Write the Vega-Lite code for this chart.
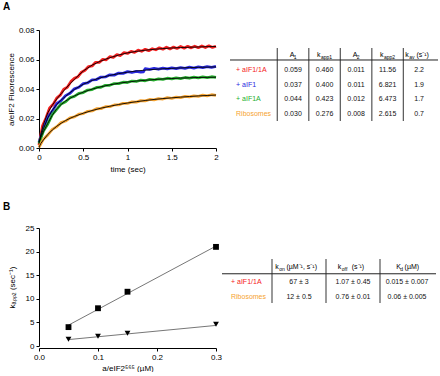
{
  "$schema": "https://vega.github.io/schema/vega-lite/v6.json",
  "padding": {"left": 3, "top": 2, "right": 0, "bottom": 0},
  "bounds": "flush",
  "columns": 2,
  "spacing": {"row": 80, "column": 6},
  "config": {
    "view": {"stroke": null},
    "font": "Liberation Sans",
    "axis": {
      "domainColor": "#000", "tickColor": "#000", "labelColor": "#000", "titleColor": "#000",
      "tickSize": 3, "labelFontSize": 8, "titleFontSize": 8, "titleFontWeight": "normal",
      "labelPadding": 2, "grid": false, "labelFlush": false, "domainWidth": 1,
      "labelFont": "Liberation Sans", "titleFont": "Liberation Sans"
    },
    "title": {"fontSize": 10, "fontWeight": "bold", "font": "Liberation Sans", "color": "#000"},
    "text": {"font": "Liberation Sans", "fontSize": 7, "baseline": "middle"}
  },
  "datasets": {
    "traces": [
      {"s": "+ aIF1/1A", "t": 0.00, "f": 0.0020}, {"s": "+ aIF1/1A", "t": 0.04, "f": 0.0150}, {"s": "+ aIF1/1A", "t": 0.08, "f": 0.0205},
      {"s": "+ aIF1/1A", "t": 0.12, "f": 0.0272}, {"s": "+ aIF1/1A", "t": 0.16, "f": 0.0296}, {"s": "+ aIF1/1A", "t": 0.20, "f": 0.0338},
      {"s": "+ aIF1/1A", "t": 0.24, "f": 0.0358}, {"s": "+ aIF1/1A", "t": 0.28, "f": 0.0399}, {"s": "+ aIF1/1A", "t": 0.32, "f": 0.0412},
      {"s": "+ aIF1/1A", "t": 0.36, "f": 0.0450}, {"s": "+ aIF1/1A", "t": 0.40, "f": 0.0472}, {"s": "+ aIF1/1A", "t": 0.44, "f": 0.0483},
      {"s": "+ aIF1/1A", "t": 0.48, "f": 0.0514}, {"s": "+ aIF1/1A", "t": 0.52, "f": 0.0527}, {"s": "+ aIF1/1A", "t": 0.56, "f": 0.0552},
      {"s": "+ aIF1/1A", "t": 0.60, "f": 0.0556}, {"s": "+ aIF1/1A", "t": 0.64, "f": 0.0581}, {"s": "+ aIF1/1A", "t": 0.68, "f": 0.0580},
      {"s": "+ aIF1/1A", "t": 0.72, "f": 0.0601}, {"s": "+ aIF1/1A", "t": 0.76, "f": 0.0598}, {"s": "+ aIF1/1A", "t": 0.80, "f": 0.0619},
      {"s": "+ aIF1/1A", "t": 0.84, "f": 0.0614}, {"s": "+ aIF1/1A", "t": 0.88, "f": 0.0633}, {"s": "+ aIF1/1A", "t": 0.92, "f": 0.0627},
      {"s": "+ aIF1/1A", "t": 0.96, "f": 0.0646}, {"s": "+ aIF1/1A", "t": 1.00, "f": 0.0641}, {"s": "+ aIF1/1A", "t": 1.04, "f": 0.0655},
      {"s": "+ aIF1/1A", "t": 1.08, "f": 0.0648}, {"s": "+ aIF1/1A", "t": 1.12, "f": 0.0663}, {"s": "+ aIF1/1A", "t": 1.16, "f": 0.0656},
      {"s": "+ aIF1/1A", "t": 1.20, "f": 0.0669}, {"s": "+ aIF1/1A", "t": 1.24, "f": 0.0660}, {"s": "+ aIF1/1A", "t": 1.28, "f": 0.0673},
      {"s": "+ aIF1/1A", "t": 1.32, "f": 0.0666}, {"s": "+ aIF1/1A", "t": 1.36, "f": 0.0679}, {"s": "+ aIF1/1A", "t": 1.40, "f": 0.0670},
      {"s": "+ aIF1/1A", "t": 1.44, "f": 0.0683}, {"s": "+ aIF1/1A", "t": 1.48, "f": 0.0672}, {"s": "+ aIF1/1A", "t": 1.52, "f": 0.0684},
      {"s": "+ aIF1/1A", "t": 1.56, "f": 0.0675}, {"s": "+ aIF1/1A", "t": 1.60, "f": 0.0688}, {"s": "+ aIF1/1A", "t": 1.64, "f": 0.0677},
      {"s": "+ aIF1/1A", "t": 1.68, "f": 0.0689}, {"s": "+ aIF1/1A", "t": 1.72, "f": 0.0679}, {"s": "+ aIF1/1A", "t": 1.76, "f": 0.0690},
      {"s": "+ aIF1/1A", "t": 1.80, "f": 0.0680}, {"s": "+ aIF1/1A", "t": 1.84, "f": 0.0692}, {"s": "+ aIF1/1A", "t": 1.88, "f": 0.0681},
      {"s": "+ aIF1/1A", "t": 1.92, "f": 0.0693}, {"s": "+ aIF1/1A", "t": 1.96, "f": 0.0682}, {"s": "+ aIF1/1A", "t": 2.00, "f": 0.0690},

      {"s": "+ aIF1", "t": 0.00, "f": 0.0040}, {"s": "+ aIF1", "t": 0.05, "f": 0.0128}, {"s": "+ aIF1", "t": 0.10, "f": 0.0210},
      {"s": "+ aIF1", "t": 0.15, "f": 0.0250}, {"s": "+ aIF1", "t": 0.20, "f": 0.0300}, {"s": "+ aIF1", "t": 0.25, "f": 0.0321},
      {"s": "+ aIF1", "t": 0.30, "f": 0.0355}, {"s": "+ aIF1", "t": 0.35, "f": 0.0371}, {"s": "+ aIF1", "t": 0.40, "f": 0.0401},
      {"s": "+ aIF1", "t": 0.45, "f": 0.0412}, {"s": "+ aIF1", "t": 0.50, "f": 0.0436}, {"s": "+ aIF1", "t": 0.55, "f": 0.0442},
      {"s": "+ aIF1", "t": 0.60, "f": 0.0462}, {"s": "+ aIF1", "t": 0.65, "f": 0.0464}, {"s": "+ aIF1", "t": 0.70, "f": 0.0481},
      {"s": "+ aIF1", "t": 0.75, "f": 0.0482}, {"s": "+ aIF1", "t": 0.80, "f": 0.0496}, {"s": "+ aIF1", "t": 0.85, "f": 0.0494},
      {"s": "+ aIF1", "t": 0.90, "f": 0.0508}, {"s": "+ aIF1", "t": 0.95, "f": 0.0506}, {"s": "+ aIF1", "t": 1.00, "f": 0.0518},
      {"s": "+ aIF1", "t": 1.05, "f": 0.0512}, {"s": "+ aIF1", "t": 1.10, "f": 0.0520}, {"s": "+ aIF1", "t": 1.15, "f": 0.0514},
      {"s": "+ aIF1", "t": 1.18, "f": 0.0516}, {"s": "+ aIF1", "t": 1.20, "f": 0.0538}, {"s": "+ aIF1", "t": 1.25, "f": 0.0533},
      {"s": "+ aIF1", "t": 1.30, "f": 0.0540}, {"s": "+ aIF1", "t": 1.35, "f": 0.0534}, {"s": "+ aIF1", "t": 1.40, "f": 0.0541},
      {"s": "+ aIF1", "t": 1.45, "f": 0.0536}, {"s": "+ aIF1", "t": 1.50, "f": 0.0543}, {"s": "+ aIF1", "t": 1.55, "f": 0.0538},
      {"s": "+ aIF1", "t": 1.60, "f": 0.0545}, {"s": "+ aIF1", "t": 1.65, "f": 0.0540}, {"s": "+ aIF1", "t": 1.70, "f": 0.0548},
      {"s": "+ aIF1", "t": 1.75, "f": 0.0542}, {"s": "+ aIF1", "t": 1.80, "f": 0.0550}, {"s": "+ aIF1", "t": 1.85, "f": 0.0545},
      {"s": "+ aIF1", "t": 1.90, "f": 0.0552}, {"s": "+ aIF1", "t": 1.95, "f": 0.0546}, {"s": "+ aIF1", "t": 2.00, "f": 0.0553},

      {"s": "+ aIF1A", "t": 0.00, "f": 0.0030}, {"s": "+ aIF1A", "t": 0.05, "f": 0.0115}, {"s": "+ aIF1A", "t": 0.10, "f": 0.0163},
      {"s": "+ aIF1A", "t": 0.15, "f": 0.0226}, {"s": "+ aIF1A", "t": 0.20, "f": 0.0262}, {"s": "+ aIF1A", "t": 0.25, "f": 0.0299},
      {"s": "+ aIF1A", "t": 0.30, "f": 0.0314}, {"s": "+ aIF1A", "t": 0.35, "f": 0.0341}, {"s": "+ aIF1A", "t": 0.40, "f": 0.0350},
      {"s": "+ aIF1A", "t": 0.45, "f": 0.0370}, {"s": "+ aIF1A", "t": 0.50, "f": 0.0376}, {"s": "+ aIF1A", "t": 0.55, "f": 0.0393},
      {"s": "+ aIF1A", "t": 0.60, "f": 0.0396}, {"s": "+ aIF1A", "t": 0.65, "f": 0.0411}, {"s": "+ aIF1A", "t": 0.70, "f": 0.0412},
      {"s": "+ aIF1A", "t": 0.75, "f": 0.0425}, {"s": "+ aIF1A", "t": 0.80, "f": 0.0425}, {"s": "+ aIF1A", "t": 0.85, "f": 0.0437},
      {"s": "+ aIF1A", "t": 0.90, "f": 0.0436}, {"s": "+ aIF1A", "t": 0.95, "f": 0.0446}, {"s": "+ aIF1A", "t": 1.00, "f": 0.0444},
      {"s": "+ aIF1A", "t": 1.05, "f": 0.0454}, {"s": "+ aIF1A", "t": 1.10, "f": 0.0451}, {"s": "+ aIF1A", "t": 1.15, "f": 0.0460},
      {"s": "+ aIF1A", "t": 1.20, "f": 0.0456}, {"s": "+ aIF1A", "t": 1.25, "f": 0.0465}, {"s": "+ aIF1A", "t": 1.30, "f": 0.0461},
      {"s": "+ aIF1A", "t": 1.35, "f": 0.0469}, {"s": "+ aIF1A", "t": 1.40, "f": 0.0465}, {"s": "+ aIF1A", "t": 1.45, "f": 0.0473},
      {"s": "+ aIF1A", "t": 1.50, "f": 0.0468}, {"s": "+ aIF1A", "t": 1.55, "f": 0.0476}, {"s": "+ aIF1A", "t": 1.60, "f": 0.0471},
      {"s": "+ aIF1A", "t": 1.65, "f": 0.0478}, {"s": "+ aIF1A", "t": 1.70, "f": 0.0473}, {"s": "+ aIF1A", "t": 1.75, "f": 0.0480},
      {"s": "+ aIF1A", "t": 1.80, "f": 0.0475}, {"s": "+ aIF1A", "t": 1.85, "f": 0.0482}, {"s": "+ aIF1A", "t": 1.90, "f": 0.0477},
      {"s": "+ aIF1A", "t": 1.95, "f": 0.0483}, {"s": "+ aIF1A", "t": 2.00, "f": 0.0479},

      {"s": "Ribosomes", "t": 0.00, "f": 0.0005}, {"s": "Ribosomes", "t": 0.05, "f": 0.0060}, {"s": "Ribosomes", "t": 0.10, "f": 0.0089},
      {"s": "Ribosomes", "t": 0.15, "f": 0.0126}, {"s": "Ribosomes", "t": 0.20, "f": 0.0144}, {"s": "Ribosomes", "t": 0.25, "f": 0.0172},
      {"s": "Ribosomes", "t": 0.30, "f": 0.0183}, {"s": "Ribosomes", "t": 0.35, "f": 0.0205}, {"s": "Ribosomes", "t": 0.40, "f": 0.0211},
      {"s": "Ribosomes", "t": 0.45, "f": 0.0229}, {"s": "Ribosomes", "t": 0.50, "f": 0.0233}, {"s": "Ribosomes", "t": 0.55, "f": 0.0249},
      {"s": "Ribosomes", "t": 0.60, "f": 0.0251}, {"s": "Ribosomes", "t": 0.65, "f": 0.0266}, {"s": "Ribosomes", "t": 0.70, "f": 0.0267},
      {"s": "Ribosomes", "t": 0.75, "f": 0.0280}, {"s": "Ribosomes", "t": 0.80, "f": 0.0280}, {"s": "Ribosomes", "t": 0.85, "f": 0.0292},
      {"s": "Ribosomes", "t": 0.90, "f": 0.0292}, {"s": "Ribosomes", "t": 0.95, "f": 0.0303}, {"s": "Ribosomes", "t": 1.00, "f": 0.0302},
      {"s": "Ribosomes", "t": 1.05, "f": 0.0313}, {"s": "Ribosomes", "t": 1.10, "f": 0.0311}, {"s": "Ribosomes", "t": 1.15, "f": 0.0321},
      {"s": "Ribosomes", "t": 1.20, "f": 0.0319}, {"s": "Ribosomes", "t": 1.25, "f": 0.0329}, {"s": "Ribosomes", "t": 1.30, "f": 0.0326},
      {"s": "Ribosomes", "t": 1.35, "f": 0.0335}, {"s": "Ribosomes", "t": 1.40, "f": 0.0332}, {"s": "Ribosomes", "t": 1.45, "f": 0.0341},
      {"s": "Ribosomes", "t": 1.50, "f": 0.0337}, {"s": "Ribosomes", "t": 1.55, "f": 0.0345}, {"s": "Ribosomes", "t": 1.60, "f": 0.0342},
      {"s": "Ribosomes", "t": 1.65, "f": 0.0350}, {"s": "Ribosomes", "t": 1.70, "f": 0.0346}, {"s": "Ribosomes", "t": 1.75, "f": 0.0354},
      {"s": "Ribosomes", "t": 1.80, "f": 0.0350}, {"s": "Ribosomes", "t": 1.85, "f": 0.0358}, {"s": "Ribosomes", "t": 1.90, "f": 0.0353},
      {"s": "Ribosomes", "t": 1.95, "f": 0.0361}, {"s": "Ribosomes", "t": 2.00, "f": 0.0356}
    ],
    "fits": [
      {"s": "+ aIF1/1A", "t": 0, "f": 0.003}, {"s": "+ aIF1/1A", "t": 0.02, "f": 0.009}, {"s": "+ aIF1/1A", "t": 0.05, "f": 0.016},
      {"s": "+ aIF1/1A", "t": 0.1, "f": 0.0240}, {"s": "+ aIF1/1A", "t": 0.15, "f": 0.0290}, {"s": "+ aIF1/1A", "t": 0.2, "f": 0.0332},
      {"s": "+ aIF1/1A", "t": 0.25, "f": 0.0368}, {"s": "+ aIF1/1A", "t": 0.3, "f": 0.0402}, {"s": "+ aIF1/1A", "t": 0.35, "f": 0.0435},
      {"s": "+ aIF1/1A", "t": 0.4, "f": 0.0466}, {"s": "+ aIF1/1A", "t": 0.5, "f": 0.0522}, {"s": "+ aIF1/1A", "t": 0.6, "f": 0.0562},
      {"s": "+ aIF1/1A", "t": 0.7, "f": 0.0590}, {"s": "+ aIF1/1A", "t": 0.8, "f": 0.0612}, {"s": "+ aIF1/1A", "t": 0.9, "f": 0.0630},
      {"s": "+ aIF1/1A", "t": 1.0, "f": 0.0645}, {"s": "+ aIF1/1A", "t": 1.1, "f": 0.0655}, {"s": "+ aIF1/1A", "t": 1.2, "f": 0.0663},
      {"s": "+ aIF1/1A", "t": 1.3, "f": 0.0669}, {"s": "+ aIF1/1A", "t": 1.4, "f": 0.0674}, {"s": "+ aIF1/1A", "t": 1.5, "f": 0.0678},
      {"s": "+ aIF1/1A", "t": 1.6, "f": 0.0681}, {"s": "+ aIF1/1A", "t": 1.7, "f": 0.0683}, {"s": "+ aIF1/1A", "t": 1.8, "f": 0.0685},
      {"s": "+ aIF1/1A", "t": 1.9, "f": 0.0687}, {"s": "+ aIF1/1A", "t": 2.0, "f": 0.0688},

      {"s": "+ aIF1", "t": 0, "f": 0.004}, {"s": "+ aIF1", "t": 0.02, "f": 0.008}, {"s": "+ aIF1", "t": 0.05, "f": 0.013},
      {"s": "+ aIF1", "t": 0.1, "f": 0.0205}, {"s": "+ aIF1", "t": 0.15, "f": 0.0255}, {"s": "+ aIF1", "t": 0.2, "f": 0.0295},
      {"s": "+ aIF1", "t": 0.25, "f": 0.0325}, {"s": "+ aIF1", "t": 0.3, "f": 0.0350}, {"s": "+ aIF1", "t": 0.35, "f": 0.0375},
      {"s": "+ aIF1", "t": 0.4, "f": 0.0397}, {"s": "+ aIF1", "t": 0.5, "f": 0.0432}, {"s": "+ aIF1", "t": 0.6, "f": 0.0458},
      {"s": "+ aIF1", "t": 0.7, "f": 0.0477}, {"s": "+ aIF1", "t": 0.8, "f": 0.0492}, {"s": "+ aIF1", "t": 0.9, "f": 0.0504},
      {"s": "+ aIF1", "t": 1.0, "f": 0.0514}, {"s": "+ aIF1", "t": 1.1, "f": 0.0522}, {"s": "+ aIF1", "t": 1.2, "f": 0.0528},
      {"s": "+ aIF1", "t": 1.3, "f": 0.0533}, {"s": "+ aIF1", "t": 1.4, "f": 0.0537}, {"s": "+ aIF1", "t": 1.5, "f": 0.0540},
      {"s": "+ aIF1", "t": 1.6, "f": 0.0543}, {"s": "+ aIF1", "t": 1.7, "f": 0.0545}, {"s": "+ aIF1", "t": 1.8, "f": 0.0547},
      {"s": "+ aIF1", "t": 1.9, "f": 0.0548}, {"s": "+ aIF1", "t": 2.0, "f": 0.0550},

      {"s": "+ aIF1A", "t": 0, "f": 0.004}, {"s": "+ aIF1A", "t": 0.02, "f": 0.007}, {"s": "+ aIF1A", "t": 0.05, "f": 0.011},
      {"s": "+ aIF1A", "t": 0.1, "f": 0.0168}, {"s": "+ aIF1A", "t": 0.15, "f": 0.0222}, {"s": "+ aIF1A", "t": 0.2, "f": 0.0265},
      {"s": "+ aIF1A", "t": 0.25, "f": 0.0295}, {"s": "+ aIF1A", "t": 0.3, "f": 0.0318}, {"s": "+ aIF1A", "t": 0.35, "f": 0.0337},
      {"s": "+ aIF1A", "t": 0.4, "f": 0.0353}, {"s": "+ aIF1A", "t": 0.5, "f": 0.0379}, {"s": "+ aIF1A", "t": 0.6, "f": 0.0399},
      {"s": "+ aIF1A", "t": 0.7, "f": 0.0415}, {"s": "+ aIF1A", "t": 0.8, "f": 0.0428}, {"s": "+ aIF1A", "t": 0.9, "f": 0.0439},
      {"s": "+ aIF1A", "t": 1.0, "f": 0.0447}, {"s": "+ aIF1A", "t": 1.1, "f": 0.0454}, {"s": "+ aIF1A", "t": 1.2, "f": 0.0459},
      {"s": "+ aIF1A", "t": 1.3, "f": 0.0464}, {"s": "+ aIF1A", "t": 1.4, "f": 0.0468}, {"s": "+ aIF1A", "t": 1.5, "f": 0.0471},
      {"s": "+ aIF1A", "t": 1.6, "f": 0.0474}, {"s": "+ aIF1A", "t": 1.7, "f": 0.0476}, {"s": "+ aIF1A", "t": 1.8, "f": 0.0478},
      {"s": "+ aIF1A", "t": 1.9, "f": 0.0479}, {"s": "+ aIF1A", "t": 2.0, "f": 0.0480},

      {"s": "Ribosomes", "t": 0, "f": 0.0005}, {"s": "Ribosomes", "t": 0.02, "f": 0.003}, {"s": "Ribosomes", "t": 0.05, "f": 0.0055},
      {"s": "Ribosomes", "t": 0.1, "f": 0.0092}, {"s": "Ribosomes", "t": 0.15, "f": 0.0122}, {"s": "Ribosomes", "t": 0.2, "f": 0.0147},
      {"s": "Ribosomes", "t": 0.25, "f": 0.0168}, {"s": "Ribosomes", "t": 0.3, "f": 0.0186}, {"s": "Ribosomes", "t": 0.35, "f": 0.0201},
      {"s": "Ribosomes", "t": 0.4, "f": 0.0214}, {"s": "Ribosomes", "t": 0.5, "f": 0.0236}, {"s": "Ribosomes", "t": 0.6, "f": 0.0254},
      {"s": "Ribosomes", "t": 0.7, "f": 0.0270}, {"s": "Ribosomes", "t": 0.8, "f": 0.0283}, {"s": "Ribosomes", "t": 0.9, "f": 0.0295},
      {"s": "Ribosomes", "t": 1.0, "f": 0.0305}, {"s": "Ribosomes", "t": 1.1, "f": 0.0314}, {"s": "Ribosomes", "t": 1.2, "f": 0.0322},
      {"s": "Ribosomes", "t": 1.3, "f": 0.0329}, {"s": "Ribosomes", "t": 1.4, "f": 0.0335}, {"s": "Ribosomes", "t": 1.5, "f": 0.0340},
      {"s": "Ribosomes", "t": 1.6, "f": 0.0345}, {"s": "Ribosomes", "t": 1.7, "f": 0.0349}, {"s": "Ribosomes", "t": 1.8, "f": 0.0353},
      {"s": "Ribosomes", "t": 1.9, "f": 0.0356}, {"s": "Ribosomes", "t": 2.0, "f": 0.0359}
    ],
    "kineticsHeader": [
      {"col": 1, "base": "A", "sub": "1", "unit": ""},
      {"col": 2, "base": "k", "sub": "app1", "unit": ""},
      {"col": 3, "base": "A", "sub": "2", "unit": ""},
      {"col": 4, "base": "k", "sub": "app2", "unit": ""},
      {"col": 5, "base": "k", "sub": "av", "unit": "(s⁻¹)"}
    ],
    "kineticsRows": [
      {"row": 1, "s": "+ aIF1/1A"}, {"row": 2, "s": "+ aIF1"}, {"row": 3, "s": "+ aIF1A"}, {"row": 4, "s": "Ribosomes"}
    ],
    "kineticsCells": [
      {"row": 1, "col": 1, "v": "0.059"}, {"row": 1, "col": 2, "v": "0.460"}, {"row": 1, "col": 3, "v": "0.011"}, {"row": 1, "col": 4, "v": "11.56"}, {"row": 1, "col": 5, "v": "2.2"},
      {"row": 2, "col": 1, "v": "0.037"}, {"row": 2, "col": 2, "v": "0.400"}, {"row": 2, "col": 3, "v": "0.011"}, {"row": 2, "col": 4, "v": "6.821"}, {"row": 2, "col": 5, "v": "1.9"},
      {"row": 3, "col": 1, "v": "0.044"}, {"row": 3, "col": 2, "v": "0.423"}, {"row": 3, "col": 3, "v": "0.012"}, {"row": 3, "col": 4, "v": "6.473"}, {"row": 3, "col": 5, "v": "1.7"},
      {"row": 4, "col": 1, "v": "0.030"}, {"row": 4, "col": 2, "v": "0.276"}, {"row": 4, "col": 3, "v": "0.008"}, {"row": 4, "col": 4, "v": "2.615"}, {"row": 4, "col": 5, "v": "0.7"}
    ],
    "binding": [
      {"s": "+ aIF1/1A", "c": 0.05, "k": 4.0}, {"s": "+ aIF1/1A", "c": 0.10, "k": 8.0},
      {"s": "+ aIF1/1A", "c": 0.15, "k": 11.5}, {"s": "+ aIF1/1A", "c": 0.30, "k": 21.0},
      {"s": "Ribosomes", "c": 0.05, "k": 1.45}, {"s": "Ribosomes", "c": 0.10, "k": 2.05},
      {"s": "Ribosomes", "c": 0.15, "k": 2.7}, {"s": "Ribosomes", "c": 0.30, "k": 4.6}
    ],
    "bindingFit": [
      {"s": "+ aIF1/1A", "c": 0.05, "k": 4.42}, {"s": "+ aIF1/1A", "c": 0.30, "k": 21.17},
      {"s": "Ribosomes", "c": 0.05, "k": 1.36}, {"s": "Ribosomes", "c": 0.30, "k": 4.36}
    ],
    "bindingHeader": [
      {"col": 1, "base": "k", "sub": "on", "unit": "(µM⁻¹, s⁻¹)"},
      {"col": 2, "base": "k", "sub": "off", "unit": "(s⁻¹)"},
      {"col": 3, "base": "K", "sub": "d", "unit": "(µM)"}
    ],
    "bindingRows": [
      {"row": 1, "s": "+ aIF1/1A"}, {"row": 2, "s": "Ribosomes"}
    ],
    "bindingCells": [
      {"row": 1, "col": 1, "v": "67 ± 3"}, {"row": 1, "col": 2, "v": "1.07 ± 0.45"}, {"row": 1, "col": 3, "v": "0.015 ± 0.007"},
      {"row": 2, "col": 1, "v": "12 ± 0.5"}, {"row": 2, "col": 2, "v": "0.76 ± 0.01"}, {"row": 2, "col": 3, "v": "0.06 ± 0.005"}
    ]
  },
  "concat": [
    {
      "width": 177,
      "height": 118,
      "title": {"text": "A", "anchor": "start", "frame": "group", "dx": -36, "offset": 14},
      "encoding": {
        "x": {"field": "t", "type": "quantitative", "scale": {"domain": [0, 2], "nice": false},
              "axis": {"values": [0, 0.5, 1, 1.5, 2], "format": "~g", "title": "time (sec)", "titlePadding": 4}},
        "y": {"field": "f", "type": "quantitative", "scale": {"domain": [0, 0.08], "nice": false},
              "axis": {"values": [0, 0.02, 0.04, 0.06, 0.08], "format": ".2f", "title": "a/eIF2 Fluorescence", "titlePadding": 3}}
      },
      "layer": [
        {
          "data": {"name": "traces"},
          "mark": {"type": "line", "strokeWidth": 2.8, "strokeJoin": "round"},
          "encoding": {
            "color": {"field": "s", "type": "nominal", "legend": null,
                      "scale": {"domain": ["+ aIF1/1A", "+ aIF1", "+ aIF1A", "Ribosomes"],
                                "range": ["#f52020", "#2a2ae0", "#26b02e", "#f6a330"]}}
          }
        },
        {
          "data": {"name": "fits"},
          "mark": {"type": "line", "strokeWidth": 0.9, "color": "#000"},
          "encoding": {"detail": {"field": "s", "type": "nominal"}}
        }
      ]
    },
    {
      "width": 216,
      "height": 118,
      "encoding": {
        "x": {"type": "quantitative", "scale": {"domain": [-1.254, 5.6], "nice": false, "zero": false}, "axis": null},
        "y": {"type": "quantitative", "scale": {"domain": [-1.725, 6.32], "nice": false, "zero": false, "reverse": true}, "axis": null}
      },
      "layer": [
        {
          "data": {"name": "kineticsHeader"},
          "mark": {"type": "rule", "color": "#555", "strokeWidth": 1.2, "xOffset": -15.75},
          "encoding": {
            "x": {"field": "col", "type": "quantitative"},
            "y": {"datum": -0.5, "type": "quantitative"},
            "y2": {"datum": 4.48}
          }
        },
        {
          "data": {"values": [{"edge": "header"}]},
          "mark": {"type": "rule", "color": "#222", "strokeWidth": 1},
          "encoding": {
            "x": {"datum": -1, "type": "quantitative"},
            "x2": {"datum": 5.6},
            "y": {"datum": 0.32, "type": "quantitative"}
          }
        },
        {
          "data": {"name": "kineticsHeader"},
          "mark": {"type": "text", "align": "left", "fontSize": 7,
                   "dx": {"expr": "-(4 + 2.8*length(datum.sub) + (length(datum.unit) > 0 ? 1.5 + 3.3*length(datum.unit) : 0))/2"}},
          "encoding": {
            "x": {"field": "col", "type": "quantitative"},
            "y": {"datum": 0, "type": "quantitative"},
            "text": {"field": "base"}
          }
        },
        {
          "data": {"name": "kineticsHeader"},
          "mark": {"type": "text", "align": "left", "fontSize": 5, "dy": 2,
                   "dx": {"expr": "4 - (4 + 2.8*length(datum.sub) + (length(datum.unit) > 0 ? 1.5 + 3.3*length(datum.unit) : 0))/2"}},
          "encoding": {
            "x": {"field": "col", "type": "quantitative"},
            "y": {"datum": 0, "type": "quantitative"},
            "text": {"field": "sub"}
          }
        },
        {
          "data": {"name": "kineticsHeader"},
          "mark": {"type": "text", "align": "left", "fontSize": 7,
                   "dx": {"expr": "5.5 + 2.8*length(datum.sub) - (4 + 2.8*length(datum.sub) + (length(datum.unit) > 0 ? 1.5 + 3.3*length(datum.unit) : 0))/2"}},
          "encoding": {
            "x": {"field": "col", "type": "quantitative"},
            "y": {"datum": 0, "type": "quantitative"},
            "text": {"field": "unit"}
          }
        },
        {
          "data": {"name": "kineticsRows"},
          "mark": {"type": "text", "align": "left", "fontSize": 7, "dx": -25.5},
          "encoding": {
            "x": {"datum": 0, "type": "quantitative"},
            "y": {"field": "row", "type": "quantitative"},
            "text": {"field": "s"},
            "color": {"field": "s", "type": "nominal", "legend": null,
                      "scale": {"domain": ["+ aIF1/1A", "+ aIF1", "+ aIF1A", "Ribosomes"],
                                "range": ["#f52020", "#2a2ae0", "#26b02e", "#f6a330"]}}
          }
        },
        {
          "data": {"name": "kineticsCells"},
          "mark": {"type": "text", "align": "center", "fontSize": 7, "color": "#111"},
          "encoding": {
            "x": {"field": "col", "type": "quantitative"},
            "y": {"field": "row", "type": "quantitative"},
            "text": {"field": "v"}
          }
        }
      ]
    },
    {
      "width": 177,
      "height": 118,
      "title": {"text": "B", "anchor": "start", "frame": "group", "dx": -36, "offset": 12},
      "encoding": {
        "x": {"field": "c", "type": "quantitative", "scale": {"domain": [0, 0.3], "nice": false},
              "axis": {"values": [0, 0.1, 0.2, 0.3], "format": ".1f", "title": "a/eIF2⁵⁶⁵ (µM)", "offset": 2, "titlePadding": 3}},
        "y": {"field": "k", "type": "quantitative", "scale": {"domain": [0, 25], "nice": false},
              "axis": {"values": [0, 5, 10, 15, 20, 25], "title": "kₐₚₚ₂ (sec⁻¹)", "titlePadding": 9}}
      },
      "layer": [
        {
          "data": {"name": "bindingFit"},
          "mark": {"type": "line", "strokeWidth": 1, "color": "#777"},
          "encoding": {"detail": {"field": "s", "type": "nominal"}}
        },
        {
          "data": {"name": "binding"},
          "mark": {"type": "point", "filled": true, "opacity": 1, "color": "#000", "size": 34},
          "encoding": {
            "shape": {"field": "s", "type": "nominal", "legend": null,
                      "scale": {"domain": ["+ aIF1/1A", "Ribosomes"], "range": ["square", "triangle-down"]}}
          }
        }
      ]
    },
    {
      "width": 214,
      "height": 118,
      "encoding": {
        "x": {"type": "quantitative", "scale": {"domain": [-0.426, 3.537], "nice": false, "zero": false}, "axis": null},
        "y": {"type": "quantitative", "scale": {"domain": [-2.54, 5.22], "nice": false, "zero": false, "reverse": true}, "axis": null}
      },
      "layer": [
        {
          "data": {"name": "bindingHeader"},
          "mark": {"type": "rule", "color": "#555", "strokeWidth": 1.2, "xOffset": -27},
          "encoding": {
            "x": {"field": "col", "type": "quantitative"},
            "y": {"datum": -0.5, "type": "quantitative"},
            "y2": {"datum": 2.39}
          }
        },
        {
          "data": {"values": [{"edge": "header"}]},
          "mark": {"type": "rule", "color": "#222", "strokeWidth": 1},
          "encoding": {
            "x": {"datum": -0.426, "type": "quantitative"},
            "x2": {"datum": 3.537},
            "y": {"datum": 0.47, "type": "quantitative"}
          }
        },
        {
          "data": {"name": "bindingHeader"},
          "mark": {"type": "text", "align": "left", "fontSize": 7,
                   "dx": {"expr": "-(4 + 2.8*length(datum.sub) + (length(datum.unit) > 0 ? 1.5 + 3.3*length(datum.unit) : 0))/2"}},
          "encoding": {
            "x": {"field": "col", "type": "quantitative"},
            "y": {"datum": 0, "type": "quantitative"},
            "text": {"field": "base"}
          }
        },
        {
          "data": {"name": "bindingHeader"},
          "mark": {"type": "text", "align": "left", "fontSize": 5, "dy": 2,
                   "dx": {"expr": "4 - (4 + 2.8*length(datum.sub) + (length(datum.unit) > 0 ? 1.5 + 3.3*length(datum.unit) : 0))/2"}},
          "encoding": {
            "x": {"field": "col", "type": "quantitative"},
            "y": {"datum": 0, "type": "quantitative"},
            "text": {"field": "sub"}
          }
        },
        {
          "data": {"name": "bindingHeader"},
          "mark": {"type": "text", "align": "left", "fontSize": 7,
                   "dx": {"expr": "5.5 + 2.8*length(datum.sub) - (4 + 2.8*length(datum.sub) + (length(datum.unit) > 0 ? 1.5 + 3.3*length(datum.unit) : 0))/2"}},
          "encoding": {
            "x": {"field": "col", "type": "quantitative"},
            "y": {"datum": 0, "type": "quantitative"},
            "text": {"field": "unit"}
          }
        },
        {
          "data": {"name": "bindingRows"},
          "mark": {"type": "text", "align": "left", "fontSize": 7, "dx": -14},
          "encoding": {
            "x": {"datum": 0, "type": "quantitative"},
            "y": {"field": "row", "type": "quantitative"},
            "text": {"field": "s"},
            "color": {"field": "s", "type": "nominal", "legend": null,
                      "scale": {"domain": ["+ aIF1/1A", "+ aIF1", "+ aIF1A", "Ribosomes"],
                                "range": ["#f52020", "#2a2ae0", "#26b02e", "#f6a330"]}}
          }
        },
        {
          "data": {"name": "bindingCells"},
          "mark": {"type": "text", "align": "center", "fontSize": 7, "color": "#111"},
          "encoding": {
            "x": {"field": "col", "type": "quantitative"},
            "y": {"field": "row", "type": "quantitative"},
            "text": {"field": "v"}
          }
        }
      ]
    }
  ]
}
